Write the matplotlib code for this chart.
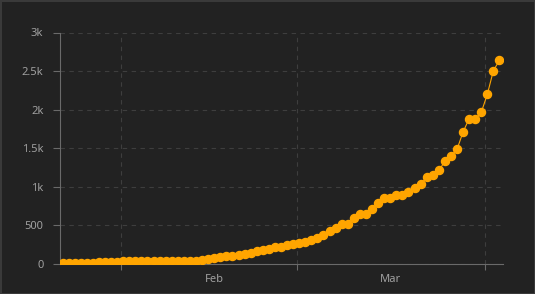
import numpy as np
import pandas as pd
import matplotlib
matplotlib.use("Agg")
import matplotlib.pyplot as plt
import matplotlib.dates as mdates
from matplotlib.ticker import FuncFormatter

plt.rcParams["font.family"] = ["Noto Sans", "DejaVu Sans"]

# data
dates = pd.date_range("2020-01-22 10:00", periods=73, freq="D")
values = [8, 8, 8, 9, 10, 11,
          20, 22, 23, 25,
          33, 34, 35, 35, 35, 36, 36, 36, 37, 37, 38, 39, 42,
          48, 69, 82, 91, 100, 104, 113, 126, 143, 165, 182, 195, 216, 225,
          251, 264, 277, 290, 312, 342, 379, 432, 471, 519, 519, 601, 653,
          653, 714, 796, 860, 860, 896, 896, 939, 985, 1035, 1124, 1152,
          1212, 1329, 1403, 1485, 1710, 1883, 1883, 1965, 2199, 2506, 2640]
month_starts = ["2020-02-01", "2020-03-01"]
month_labels = ["Feb", "Mar"]
y_ticks = [0, 500, 1000, 1500, 2000, 2500, 3000]

bg = "#222222"
txt = "#a0a0a0"
grid_c = "#3e3e3e"
axis_c = "#6a6a6a"
orange = "#FFA500"

fig = plt.figure(figsize=(5.35, 2.94), dpi=100)
fig.patch.set_facecolor(bg)
fig.patch.set_edgecolor("#3a3a3a")
fig.patch.set_linewidth(2)
ax = fig.add_axes([60 / 535, 1 - 264 / 294, 443 / 535, 231.5 / 294])
ax.set_facecolor(bg)

ax.plot(dates, values, color=orange, lw=0.8, marker="o", ms=5.8,
        mec=orange, mfc=orange, zorder=3)

# month boundaries as major ticks, month names in the middle as minor ticks
ax.xaxis.set_major_locator(mdates.MonthLocator())
ax.xaxis.set_major_formatter(plt.NullFormatter())
mids = [pd.Timestamp(m) + pd.Timedelta(days=15.5) for m in month_starts]
ax.set_xticks(mids, minor=True)
ax.set_xticklabels(month_labels, minor=True)
ax.tick_params(axis="x", which="minor", length=0, pad=7)
ax.tick_params(axis="x", which="major", length=4, color=axis_c)

ax.set_xlim(pd.Timestamp("2020-01-22"), pd.Timestamp("2020-04-04"))
ax.set_ylim(0, 3000)

ax.set_yticks(y_ticks)
ax.yaxis.set_major_formatter(FuncFormatter(
    lambda v, p: "0" if v == 0 else (f"{v / 1000:g}k" if v >= 1000 else f"{v:g}")))
ax.tick_params(axis="y", length=5, color=axis_c, pad=7)
ax.tick_params(which="both", labelsize=8, labelcolor=txt)

ax.grid(True, which="major", color=grid_c, linestyle=(0, (4, 4)), linewidth=0.8)
for s in ["top", "right"]:
    ax.spines[s].set_visible(False)
for s in ["left", "bottom"]:
    ax.spines[s].set_color(axis_c)
    ax.spines[s].set_linewidth(0.8)

fig.savefig("out.png", dpi=100, facecolor=bg, edgecolor=fig.patch.get_edgecolor())
